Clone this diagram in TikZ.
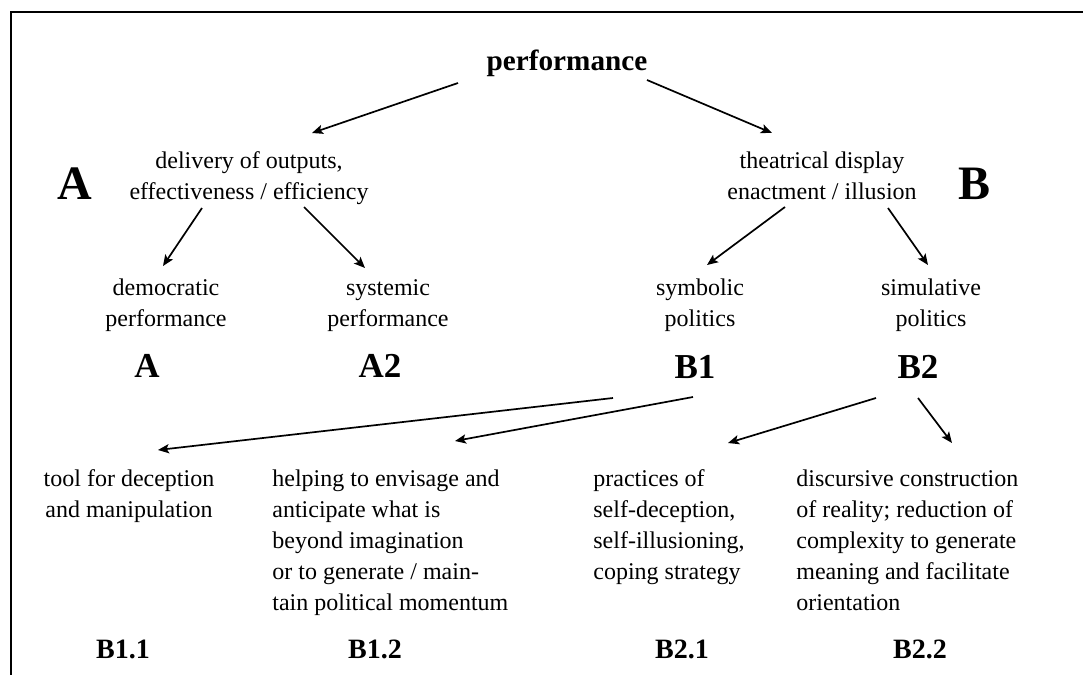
\documentclass[tikz,border=0pt]{standalone}
\usepackage{fontspec}
\setmainfont{Liberation Serif}
\usetikzlibrary{arrows.meta}
\begin{document}
\begin{tikzpicture}[x=0.5pt,y=-0.5pt,
  txt/.style={inner sep=0pt, font=\fontsize{12}{15.5}\selectfont},
  toplab/.style={inner sep=0pt, font=\fontsize{14.6}{16}\selectfont\bfseries},
  lab/.style={inner sep=0pt, font=\fontsize{17.5}{18}\selectfont\bfseries},
  sublab/.style={inner sep=0pt, font=\fontsize{14}{16}\selectfont\bfseries},
  big/.style={inner sep=0pt, font=\fontsize{24}{26}\selectfont\bfseries},
  arr/.style={line width=0.85pt, -{Stealth[length=5.5pt,width=4.6pt,inset=1.2pt]}}]
\useasboundingbox (0,0) rectangle (1083,675);
\draw[line width=1pt] (1083,11.5) -- (10.5,11.5) -- (10.5,675);

\node[toplab, anchor=base] (perf) at (567,70) {performance};
\node[big, anchor=base] (bigA) at (75,199) {A};
\node[big, anchor=base] (bigB) at (975,199) {B};

\node[txt, anchor=base] (deliv) at (249,168) {\begin{tabular}[t]{@{}c@{}}delivery of outputs,\\effectiveness / efficiency\end{tabular}};
\node[txt, anchor=base] (theat) at (822,168) {\begin{tabular}[t]{@{}c@{}}theatrical display\\enactment / illusion\end{tabular}};

\node[txt, anchor=base] (dem) at (166,295) {\begin{tabular}[t]{@{}c@{}}democratic\\performance\end{tabular}};
\node[txt, anchor=base] (sys) at (388,295) {\begin{tabular}[t]{@{}c@{}}systemic\\performance\end{tabular}};
\node[txt, anchor=base] (sym) at (700,295) {\begin{tabular}[t]{@{}c@{}}symbolic\\politics\end{tabular}};
\node[txt, anchor=base] (sim) at (931,295) {\begin{tabular}[t]{@{}c@{}}simulative\\politics\end{tabular}};

\node[lab, anchor=base] (labA) at (147,377) {A};
\node[lab, anchor=base] (labA2) at (380,377) {A2};
\node[lab, anchor=base] (labB1) at (695,378) {B1};
\node[lab, anchor=base] (labB2) at (918,378) {B2};

\node[txt, anchor=base] (tool) at (129,486) {\begin{tabular}[t]{@{}c@{}}tool for deception\\and manipulation\end{tabular}};
\node[txt, anchor=base west] (help) at (272,486) {\begin{tabular}[t]{@{}l@{}}helping to envisage and\\anticipate what is\\beyond imagination\\or to generate / main-\\tain political momentum\end{tabular}};
\node[txt, anchor=base west] (prac) at (593,486) {\begin{tabular}[t]{@{}l@{}}practices of\\self-deception,\\self-illusioning,\\coping strategy\end{tabular}};
\node[txt, anchor=base west] (disc) at (796,486) {\begin{tabular}[t]{@{}l@{}}discursive construction\\of reality; reduction of\\complexity to generate\\meaning and facilitate\\orientation\end{tabular}};

\node[sublab, anchor=base] (labB11) at (123,658) {B1.1};
\node[sublab, anchor=base] (labB12) at (375,658) {B1.2};
\node[sublab, anchor=base] (labB21) at (682,658) {B2.1};
\node[sublab, anchor=base] (labB22) at (920,658) {B2.2};

\draw[arr] ([shift={(-109,13)}]perf.base) -- ([shift={(63,-35)}]deliv.base);
\draw[arr] ([shift={(80,10)}]perf.base) -- ([shift={(-50,-35)}]theat.base);
\draw[arr] ([shift={(-47,40)}]deliv.base) -- ([shift={(-3,-29)}]dem.base);
\draw[arr] ([shift={(55,39)}]deliv.base) -- ([shift={(-23,-27)}]sys.base);
\draw[arr] ([shift={(-37,39)}]theat.base) -- ([shift={(7,-30)}]sym.base);
\draw[arr] ([shift={(66,40)}]theat.base) -- ([shift={(-3,-30)}]sim.base);
\draw[arr] ([shift={(-82,20)}]labB1.base) -- ([shift={(29,-36)}]tool.base);
\draw[arr] ([shift={(-2,19)}]labB1.base) -- ([shift={(183,-45)}]help.base west);
\draw[arr] ([shift={(-42,20)}]labB2.base) -- ([shift={(135,-43)}]prac.base west);
\draw[arr] ([shift={(0,20)}]labB2.base) -- ([shift={(156,-43)}]disc.base west);
\end{tikzpicture}
\end{document}
